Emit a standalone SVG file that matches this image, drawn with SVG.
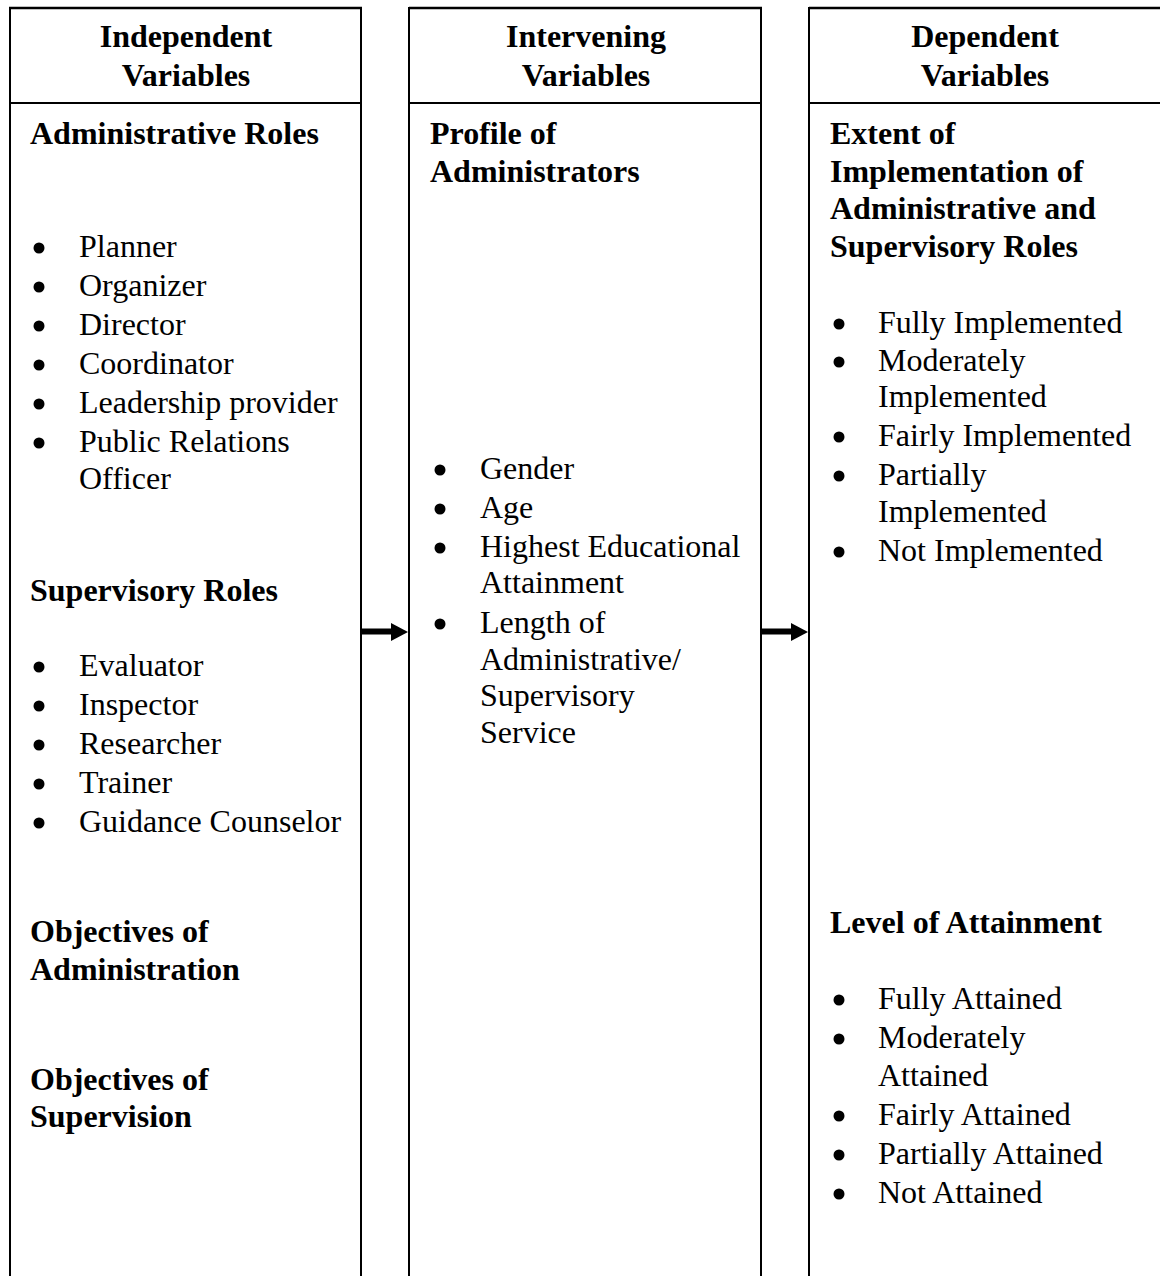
<svg xmlns="http://www.w3.org/2000/svg" width="1160" height="1276" viewBox="0 0 1160 1276">
<style>
.t{font-family:"Liberation Serif","Times New Roman",serif;font-size:32px;fill:#000}
.b{font-weight:bold}
.h{font-weight:bold;text-anchor:middle}
.frame{fill:none;stroke:#000;stroke-width:2}
.top{stroke:#000;stroke-width:2.5}
.div{stroke:#000;stroke-width:2}
.dot{fill:#000}
</style>
<rect width="1160" height="1276" fill="#fff"/>
<g id="col-independent">
<line class="top" x1="9" y1="8" x2="362" y2="8"/>
<line class="div" x1="9" y1="103" x2="362" y2="103"/>
<line class="frame" x1="10" y1="7" x2="10" y2="1276"/>
<line class="frame" x1="361" y1="7" x2="361" y2="1276"/>
<text class="t h" x="186" y="47">Independent</text>
<text class="t h" x="186" y="86">Variables</text>
<text class="t b" x="30" y="144">Administrative Roles</text>
<circle class="dot" cx="39" cy="248" r="5.5"/><text class="t" x="79" y="257">Planner</text>
<circle class="dot" cx="39" cy="287" r="5.5"/><text class="t" x="79" y="296">Organizer</text>
<circle class="dot" cx="39" cy="326" r="5.5"/><text class="t" x="79" y="335">Director</text>
<circle class="dot" cx="39" cy="365" r="5.5"/><text class="t" x="79" y="374">Coordinator</text>
<circle class="dot" cx="39" cy="404" r="5.5"/><text class="t" x="79" y="413">Leadership provider</text>
<circle class="dot" cx="39" cy="443" r="5.5"/><text class="t" x="79" y="452">Public Relations</text>
<text class="t" x="79" y="489">Officer</text>
<text class="t b" x="30" y="601">Supervisory Roles</text>
<circle class="dot" cx="39" cy="667" r="5.5"/><text class="t" x="79" y="676">Evaluator</text>
<circle class="dot" cx="39" cy="706" r="5.5"/><text class="t" x="79" y="715">Inspector</text>
<circle class="dot" cx="39" cy="745" r="5.5"/><text class="t" x="79" y="754">Researcher</text>
<circle class="dot" cx="39" cy="784" r="5.5"/><text class="t" x="79" y="793">Trainer</text>
<circle class="dot" cx="39" cy="823" r="5.5"/><text class="t" x="79" y="832">Guidance Counselor</text>
<text class="t b" x="30" y="942">Objectives of</text>
<text class="t b" x="30" y="980">Administration</text>
<text class="t b" x="30" y="1090">Objectives of</text>
<text class="t b" x="30" y="1127">Supervision</text>
</g>
<g id="col-intervening">
<line class="top" x1="409" y1="8" x2="762" y2="8"/>
<line class="div" x1="409" y1="103" x2="762" y2="103"/>
<line class="frame" x1="409" y1="7" x2="409" y2="1276"/>
<line class="frame" x1="761" y1="7" x2="761" y2="1276"/>
<text class="t h" x="586" y="47">Intervening</text>
<text class="t h" x="586" y="86">Variables</text>
<text class="t b" x="430" y="144">Profile of</text>
<text class="t b" x="430" y="182">Administrators</text>
<circle class="dot" cx="440" cy="470" r="5.5"/><text class="t" x="480" y="479">Gender</text>
<circle class="dot" cx="440" cy="509" r="5.5"/><text class="t" x="480" y="518">Age</text>
<circle class="dot" cx="440" cy="548" r="5.5"/><text class="t" x="480" y="557">Highest Educational</text>
<text class="t" x="480" y="593">Attainment</text>
<circle class="dot" cx="440" cy="624" r="5.5"/><text class="t" x="480" y="633">Length of</text>
<text class="t" x="480" y="670">Administrative/</text>
<text class="t" x="480" y="706">Supervisory</text>
<text class="t" x="480" y="743">Service</text>
</g>
<g id="col-dependent">
<line class="top" x1="809" y1="8" x2="1160" y2="8"/>
<line class="div" x1="809" y1="103" x2="1160" y2="103"/>
<line class="frame" x1="809" y1="7" x2="809" y2="1276"/>
<text class="t h" x="985" y="47">Dependent</text>
<text class="t h" x="985" y="86">Variables</text>
<text class="t b" x="830" y="144">Extent of</text>
<text class="t b" x="830" y="182">Implementation of</text>
<text class="t b" x="830" y="219">Administrative and</text>
<text class="t b" x="830" y="257">Supervisory Roles</text>
<circle class="dot" cx="839" cy="324" r="5.5"/><text class="t" x="878" y="333">Fully Implemented</text>
<circle class="dot" cx="839" cy="362" r="5.5"/><text class="t" x="878" y="371">Moderately</text>
<text class="t" x="878" y="407">Implemented</text>
<circle class="dot" cx="839" cy="437" r="5.5"/><text class="t" x="878" y="446">Fairly Implemented</text>
<circle class="dot" cx="839" cy="476" r="5.5"/><text class="t" x="878" y="485">Partially</text>
<text class="t" x="878" y="522">Implemented</text>
<circle class="dot" cx="839" cy="552" r="5.5"/><text class="t" x="878" y="561">Not Implemented</text>
<text class="t b" x="830" y="933">Level of Attainment</text>
<circle class="dot" cx="839" cy="1000" r="5.5"/><text class="t" x="878" y="1009">Fully Attained</text>
<circle class="dot" cx="839" cy="1039" r="5.5"/><text class="t" x="878" y="1048">Moderately</text>
<text class="t" x="878" y="1086">Attained</text>
<circle class="dot" cx="839" cy="1116" r="5.5"/><text class="t" x="878" y="1125">Fairly Attained</text>
<circle class="dot" cx="839" cy="1155" r="5.5"/><text class="t" x="878" y="1164">Partially Attained</text>
<circle class="dot" cx="839" cy="1194" r="5.5"/><text class="t" x="878" y="1203">Not Attained</text>
</g>
<g id="connectors">
<rect x="362" y="628.5" width="31" height="6" fill="#000"/>
<polygon points="391,623 408,632 391,641" fill="#000"/>
<rect x="762" y="628.5" width="31" height="6" fill="#000"/>
<polygon points="791,623 808,632 791,641" fill="#000"/>
</g>
</svg>
